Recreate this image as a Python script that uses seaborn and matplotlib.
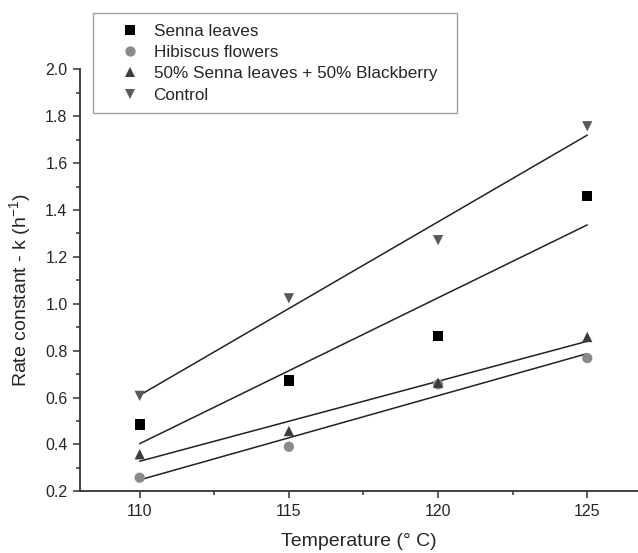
import matplotlib
matplotlib.use("Agg")
import numpy as np
import pandas as pd
import matplotlib.pyplot as plt
import seaborn as sns
from matplotlib.ticker import MultipleLocator, FormatStrFormatter

# --- data ---
temperature = [110, 115, 120, 125]
series_names = [
    "Senna leaves",
    "Hibiscus flowers",
    "50% Senna leaves + 50% Blackberry",
    "Control",
]
senna = [0.485, 0.673, 0.862, 1.459]
hibiscus = [0.258, 0.390, 0.656, 0.768]
senna_blackberry = [0.358, 0.457, 0.663, 0.858]
control = [0.607, 1.023, 1.271, 1.757]

series_values = [senna, hibiscus, senna_blackberry, control]
markers = ["s", "o", "^", "v"]
colors = ["#000000", "#8a8a8a", "#3c3c3c", "#5a5a5a"]

df = pd.DataFrame({
    "Temperature": temperature * len(series_names),
    "k": [v for vals in series_values for v in vals],
    "Sample": [n for n in series_names for _ in temperature],
})

sns.set_style("ticks")
plt.rcParams["font.family"] = ["Liberation Sans", "DejaVu Sans"]
plt.rcParams["mathtext.fontset"] = "custom"
plt.rcParams["mathtext.rm"] = "Liberation Sans"
plt.rcParams["mathtext.default"] = "rm"

fig = plt.figure(figsize=(6.38, 5.53), dpi=100)
ax = fig.add_axes([0.1254, 0.1116, 0.8746, 0.7631])

# linear fits for each sample
for name in series_names:
    sub = df[df["Sample"] == name]
    sns.regplot(data=sub, x="Temperature", y="k", scatter=False, ci=None,
                color="#222222", line_kws={"lw": 1.1}, ax=ax)

sns.scatterplot(data=df, x="Temperature", y="k", hue="Sample", style="Sample",
                hue_order=series_names, style_order=series_names,
                markers=dict(zip(series_names, markers)),
                palette=dict(zip(series_names, colors)),
                s=55, edgecolor="none", linewidth=0, ax=ax, zorder=3)

ax.set_xlim(108, 126.7)
ax.set_ylim(0.2, 2.0)
ax.xaxis.set_major_locator(MultipleLocator(5))
ax.xaxis.set_minor_locator(MultipleLocator(2.5))
ax.yaxis.set_major_locator(MultipleLocator(0.2))
ax.yaxis.set_minor_locator(MultipleLocator(0.1))
ax.yaxis.set_major_formatter(FormatStrFormatter("%.1f"))

for s in ["top", "right"]:
    ax.spines[s].set_visible(False)
for s in ["left", "bottom"]:
    ax.spines[s].set_color("#333333")
    ax.spines[s].set_linewidth(1.3)

ax.tick_params(which="major", direction="out", length=5, width=1.1,
               color="#333333", labelsize=11.5, pad=4)
ax.tick_params(which="minor", direction="out", length=3, width=1.1,
               color="#333333")

ax.set_xlabel("Temperature (° C)", fontsize=14, labelpad=10)
ax.set_ylabel("Rate constant - k (h$^{-1}$)", fontsize=14)
ax.yaxis.set_label_coords(-0.084, 0.476)

leg = ax.legend(loc="upper left", bbox_to_anchor=(0.1453, 0.80, 0.5705, 0.176),
                bbox_transform=fig.transFigure, mode="expand", fontsize=12.3,
                frameon=True, fancybox=False, labelspacing=0.375,
                handlelength=3.12, handletextpad=-0.16, borderpad=0.6,
                borderaxespad=0, markerscale=1.0)
leg.get_frame().set_edgecolor("#888888")
leg.get_frame().set_linewidth(1.0)
leg.set_title(None)

fig.savefig("out.png", dpi=100)
